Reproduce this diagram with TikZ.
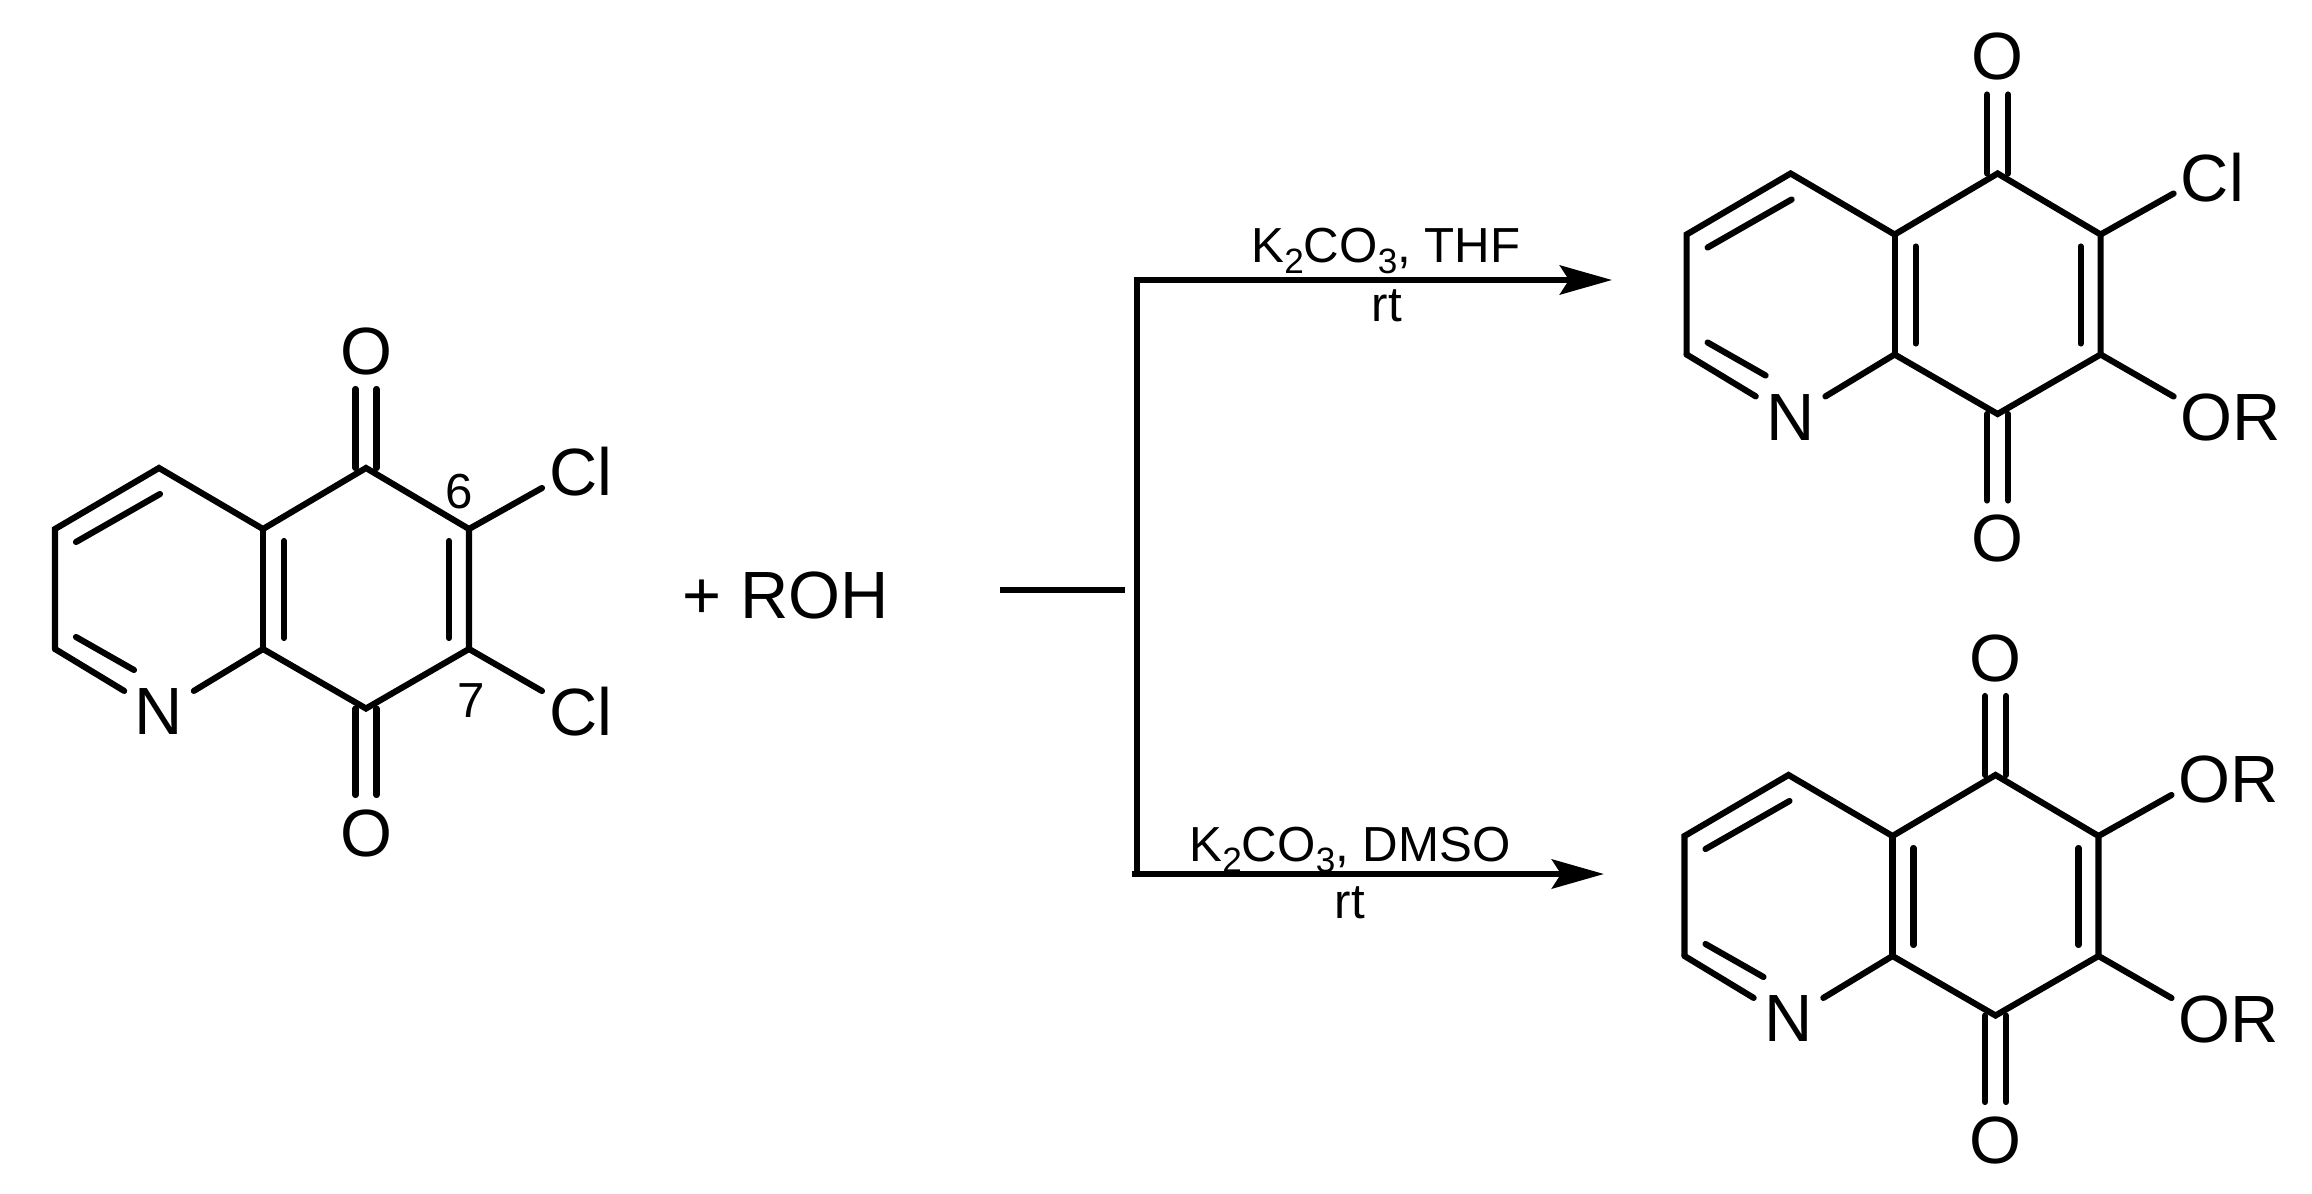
\documentclass[tikz,border=0pt]{standalone}
\usepackage{fontspec}
\setmainfont{Liberation Sans}
\usetikzlibrary{arrows.meta,calc}
\tikzset{
	bond/.style={line width=1.75pt, line cap=round, line join=miter},
	rxn/.style={line width=1.8pt},
	atom/.style={circle, inner sep=0pt, minimum size=0.8cm, font=\fontsize{19}{23}\selectfont},
	group/.style={anchor=west, inner sep=0pt, font=\fontsize{19}{23}\selectfont},
	locant/.style={inner sep=0pt, font=\fontsize{14}{17}\selectfont},
	cond/.style={anchor=base, inner sep=0pt, font=\fontsize{14}{17}\selectfont}
}
\def\sub#1{\raisebox{-3.2pt}{\fontsize{10}{12}\selectfont #1}}
% quinone ring system: [prefix](shift)(group at C6)(group at C7)
\def\quinone[#1](#2,#3)(#4)(#5){
	\begin{scope}[shift={(#2,#3)}, name prefix=#1-]
		\coordinate (c2) at (55,649);
		\coordinate (c3) at (55,529);
		\coordinate (c4) at (159,468);
		\coordinate (c4a) at (263,529);
		\coordinate (c5) at (366,468);
		\coordinate (c6) at (469,529);
		\coordinate (c7) at (469,649);
		\coordinate (c8) at (366,708.5);
		\coordinate (c8a) at (263,649);
		\coordinate (e6) at (542,488);
		\coordinate (e7) at (542,691);
		\node[atom] (n1) at (159,712) {N};
		\node[atom] (o5) at (366,351) {O};
		\node[atom] (o8) at (366,833) {O};
		\node[group] (r6) at (548.5,472) {#4};
		\node[group] (r7) at (548.5,712) {#5};

		\draw[bond] (c2) -- (c3) -- (c4) -- (c4a) -- (c5) -- (c6) -- (c7) -- (c8) -- (c8a);
		\draw[bond] (c2) -- (n1) -- (c8a);
		\draw[bond] (c4a) -- (c8a);
		\draw[bond] (c6) -- (e6);
		\draw[bond] (c7) -- (e7);

		\draw[bond] ($(c3)+(21,13)$) -- ($(c4)+(1,26)$);
		\draw[bond] ($(c2)+(21,-12)$) -- ($(c2)+(79,21)$);
		\draw[bond] ($(c4a)+(21,12)$) -- ($(c8a)+(21,-11)$);
		\draw[bond] ($(c6)+(-20,12)$) -- ($(c7)+(-20,-11)$);

		\foreach \dx in {-10.5,10.5} {
			\draw[bond] ($(o5)+(\dx,38)$) -- ($(c5)+(\dx,0)$);
			\draw[bond] ($(o8)+(\dx,-38)$) -- ($(c8)+(\dx,0)$);
		}
	\end{scope}
}

\begin{document}
\begin{tikzpicture}[x=0.01cm, y=-0.01cm]
	\useasboundingbox (0,0) rectangle (2312,1194);

	%%%%% MOLECULES %%%%%
	\quinone[sm](0,0)(Cl)(Cl)
	\quinone[mono](1631.6,-294.5)(Cl)(OR)
	\quinone[bis](1629.5,307)(OR)(OR)

	\node[locant] (pos6) at (459,492) {6};
	\node[locant] (pos7) at (471,701) {7};

	\node[anchor=base, inner sep=0pt, font=\fontsize{19}{23}\selectfont] (roh) at (786,618) {+ ROH};

	%%%%% ARROWS %%%%%
	\coordinate (feedL) at (1000,590);
	\coordinate (feedR) at (1125,590);
	\coordinate (forkT) at (1137,280);
	\coordinate (forkB) at (1137,874);
	\coordinate (tailB) at (1132,874);
	\coordinate (tipT) at (1612,280);
	\coordinate (tipB) at (1604,874);

	\draw[rxn] (feedL) -- (feedR);
	\draw[rxn] (forkB) -- (forkT);
	\draw[rxn, line cap=rect, -{Stealth[length=0.52cm, width=0.29cm, inset=0.09cm]}] (forkT) -- (tipT);
	\draw[rxn, -{Stealth[length=0.52cm, width=0.29cm, inset=0.09cm]}] (tailB) -- (tipB);

	\node[cond] (condT) at (1386,262) {K\sub{2}CO\sub{3}, THF};
	\node[cond] (rtT) at (1387,321) {rt};
	\node[cond] (condB) at (1350,861) {K\sub{2}CO\sub{3}, DMSO};
	\node[cond] (rtB) at (1350,918) {rt};
\end{tikzpicture}
\end{document}
